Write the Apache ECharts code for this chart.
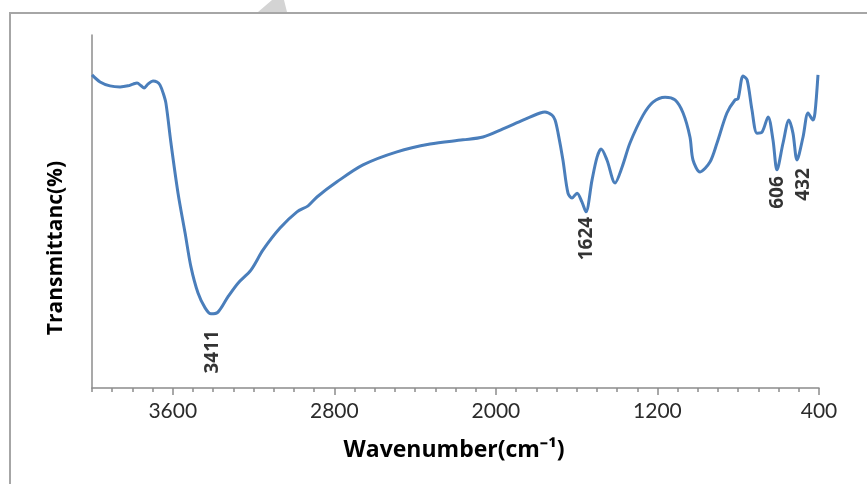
<!DOCTYPE html>
<html><head><meta charset="utf-8">
<script src="https://cdn.jsdelivr.net/npm/echarts@6/dist/echarts.min.js"></script>
<style>html,body{margin:0;padding:0;background:#fff}#c{width:867px;height:484px}</style>
</head><body><div id="c"></div>
<script>
// FT-IR spectrum (wavenumber in cm-1, transmittance in arbitrary %)
const wavenumber = [4000,3960,3911,3861,3822,3797,3777,3757,3742,3723,3698,3678,3663,3648,3634,3609,3574,3539,3510,3475,3440,3411,3376,3327,3277,3213,3153,3069,2985,2930,2886,2787,2658,2490,2326,2163,2064,1965,1866,1781,1757,1722,1707,1692,1668,1643,1623,1598,1574,1554,1524,1499,1479,1450,1410,1375,1336,1271,1222,1162,1113,1073,1039,1024,989,940,905,856,816,801,776,756,732,707,682,652,628,608,578,549,529,509,479,454,430,420,405];
const transmittance = [88.7,86.7,85.6,85.3,85.6,86.1,86.4,85.6,85.0,86.1,87.0,86.7,85.8,83.6,80.7,69.4,55.2,43.9,34.3,26.9,22.7,21.0,21.5,25.8,29.7,33.4,39.1,45.3,49.9,51.6,54.1,58.4,63.2,66.9,69.1,70.3,71.1,73.4,75.9,77.9,78.2,77.3,75.9,72.2,64.6,55.2,53.8,55.2,52.7,49.9,58.9,65.4,67.7,64.6,58.1,62.6,69.4,77.3,81.0,82.4,81.6,77.9,71.1,64.6,61.2,64.0,69.4,77.9,81.6,81.9,88.4,87.3,78.8,72.2,72.5,76.8,70.3,61.8,69.4,75.9,72.2,64.6,71.1,77.9,75.9,77.9,88.7];
const xTickValues = [400,1200,2000,2800,3600];
const peakText = ['3411','1624','606','432'];
const peakWn = [3401,1551,603,477];
const peakT = [16.4,48.5,60.0,62.3];

const lineData = wavenumber.map((w,i)=>[w,transmittance[i]]);
const peakData = peakWn.map((w,i)=>({value:[w,peakT[i]], name:peakText[i]}));

const chart = echarts.init(document.getElementById('c'), null, {renderer:'canvas'});
const axisGray = '#8c8c8c';
const boldFont = '"Open Sans"';
chart.setOption({
  animation:false,
  backgroundColor:'#fff',
  grid:{left:92,right:48,top:35,bottom:96},
  xAxis:[{
    type:'value', min:400, max:4000, inverse:true, position:'bottom',
    axisLine:{show:true,onZero:false,lineStyle:{color:axisGray,width:1.5}},
    axisTick:{show:true,length:7,customValues:xTickValues,lineStyle:{color:axisGray,width:1.5}},
    axisLabel:{show:true,customValues:xTickValues,formatter:v=>String(v),margin:13,color:'#2b2b2b',fontFamily:'Lato',fontSize:21},
    splitLine:{show:false}
  },{
    type:'value', min:400, max:4000, interval:100, inverse:true, position:'bottom',
    axisLine:{show:false,onZero:false},
    axisTick:{show:true,length:4,lineStyle:{color:axisGray,width:1.5}},
    axisLabel:{show:false},
    splitLine:{show:false}
  }],
  yAxis:{
    type:'value', min:0, max:100,
    axisLine:{show:true,lineStyle:{color:axisGray,width:1.5}},
    axisTick:{show:false}, axisLabel:{show:false}, splitLine:{show:false}
  },
  series:[{
    type:'line', data:lineData, xAxisIndex:0, showSymbol:false, smooth:0.3,
    lineStyle:{color:'#4a7ebb',width:3}, z:3
  },{
    type:'scatter', data:peakData, xAxisIndex:0, symbolSize:0, silent:true,
    label:{show:true, formatter:p=>p.name, position:'inside', rotate:90, align:'right', verticalAlign:'middle',
      color:'#000', fontFamily:boldFont, fontWeight:'bold', fontSize:19}
  }],
  graphic:[
    {type:'rect', shape:{x:10,y:13,width:900,height:520}, style:{fill:'none',stroke:'#a6a6a6',lineWidth:2}, silent:true},
    {type:'polygon', shape:{points:[[258,12],[272,0],[284,0],[287,12]]}, style:{fill:'#d4d4d4'}, silent:true},
    {type:'text', x:454, y:450, style:{text:'Wavenumber(cm⁻¹)', font:'bold 23px "Open Sans"', fill:'#000', textAlign:'center', textVerticalAlign:'middle'}},
    {type:'text', x:56, y:248, rotation:Math.PI/2, style:{text:'Transmittanc(%)', font:'bold 21px "Open Sans"', fill:'#000', textAlign:'center', textVerticalAlign:'middle'}}
  ]
});
</script>
</body></html>
